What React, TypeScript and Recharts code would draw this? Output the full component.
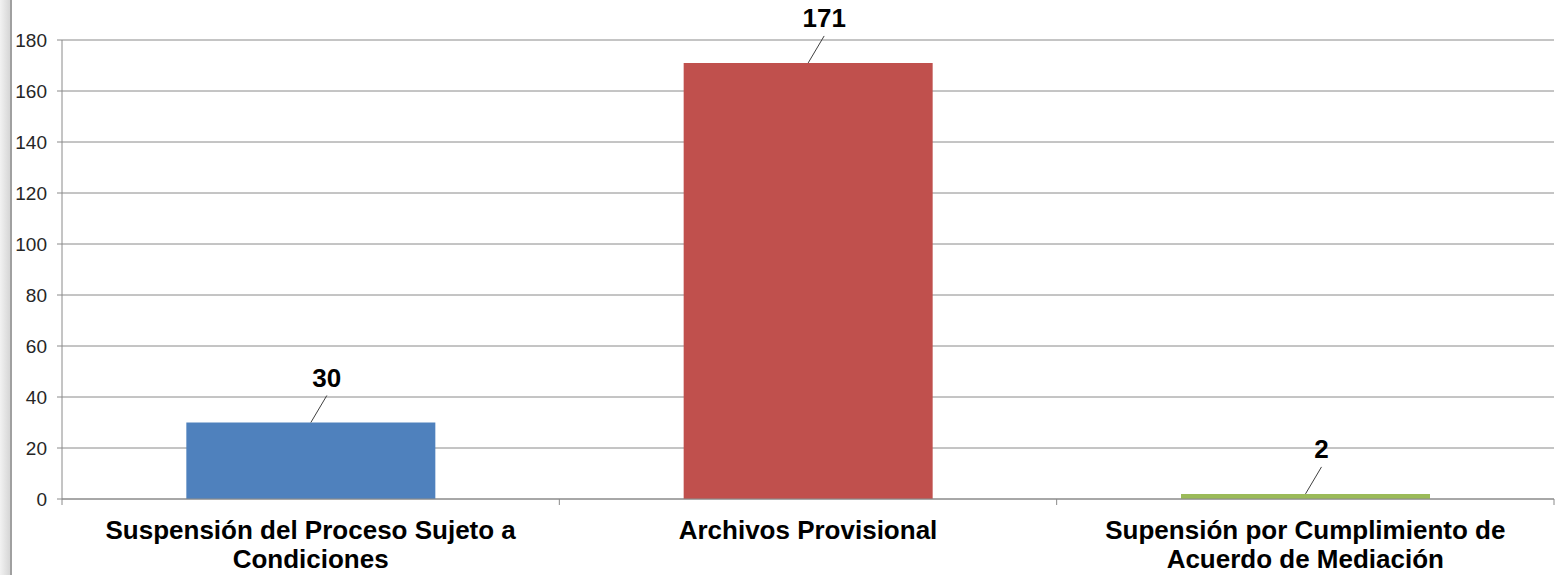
import React from "react";
import {
  Bar,
  BarChart,
  CartesianGrid,
  Cell,
  LabelList,
  XAxis,
  YAxis,
} from "recharts";

// categories (two text lines each) and values
const categories = [
  "Suspensión del Proceso Sujeto a|Condiciones",
  "Archivos Provisional",
  "Supensión por Cumplimiento de|Acuerdo de Mediación",
];
const values = [30, 171, 2];
const barColors = ["#4F81BD", "#C0504D", "#9BBB59"];
const yTicks = [0, 20, 40, 60, 80, 100, 120, 140, 160, 180];

const FONT = "'Liberation Sans', Arial, sans-serif";
const GRID = "#8a8a8a";

const chartData = categories.map((name, i) => ({ name, value: values[i] }));

const CategoryTick = (props: any) => {
  const { x, y, payload, index, visibleTicksCount } = props;
  const half = payload?.offset ?? 248;
  const axisY = y - 8;
  const lines = String(payload.value).split("|");
  const isLast = index === (visibleTicksCount ?? categories.length) - 1;
  return (
    <g>
      <line x1={x - half} y1={axisY} x2={x - half} y2={axisY + 6} stroke={GRID} />
      {isLast && (
        <line x1={x + half} y1={axisY} x2={x + half} y2={axisY + 6} stroke={GRID} />
      )}
      <text
        x={x}
        y={axisY + 40}
        textAnchor="middle"
        fontFamily={FONT}
        fontWeight="bold"
        fontSize={26}
        fill="#000"
      >
        {lines.map((ln, i) => (
          <tspan key={i} x={x} dy={i === 0 ? 0 : 29}>
            {ln}
          </tspan>
        ))}
      </text>
    </g>
  );
};

const LeaderLabel = (props: any) => {
  const { x, y, width, value } = props;
  const cx = x + width / 2;
  const ex = cx + 16;
  const ey = y - 27;
  return (
    <g>
      <line x1={cx} y1={y} x2={ex} y2={ey} stroke="#404040" strokeWidth={1} />
      <text
        x={ex}
        y={ey - 9}
        textAnchor="middle"
        fontFamily={FONT}
        fontWeight="bold"
        fontSize={26}
        fill="#000"
      >
        {value}
      </text>
    </g>
  );
};

export default function App() {
  return (
    <div
      style={{
        position: "absolute",
        left: 0,
        top: 0,
        width: 1555,
        height: 575,
        background: "#fff",
        overflow: "hidden",
      }}
    >
      <div
        style={{
          position: "absolute",
          left: 0,
          top: 0,
          width: 10,
          height: 575,
          background: "linear-gradient(to right, #f2f2f2, #d6d6d6)",
          borderRight: "2px solid #a0a0a0",
        }}
      />
      <BarChart
        width={1555}
        height={575}
        data={chartData}
        margin={{ top: 40, right: 1, bottom: 0, left: 0 }}
        barCategoryGap="25%"
      >
        <CartesianGrid vertical={false} stroke={GRID} />
        <XAxis
          dataKey="name"
          height={76}
          interval={0}
          axisLine={{ stroke: GRID }}
          tickLine={false}
          tick={<CategoryTick />}
        />
        <YAxis
          width={62}
          domain={[0, 180]}
          ticks={yTicks}
          interval={0}
          axisLine={{ stroke: GRID }}
          tickLine={{ stroke: GRID }}
          tickSize={5}
          tickMargin={10}
          tick={{ fontFamily: FONT, fontSize: 19, fill: "#262626" }}
        />
        <Bar dataKey="value" isAnimationActive={false}>
          {chartData.map((_, i) => (
            <Cell key={`bar-${i}`} fill={barColors[i]} />
          ))}
          <LabelList dataKey="value" content={<LeaderLabel />} />
        </Bar>
      </BarChart>
    </div>
  );
}
